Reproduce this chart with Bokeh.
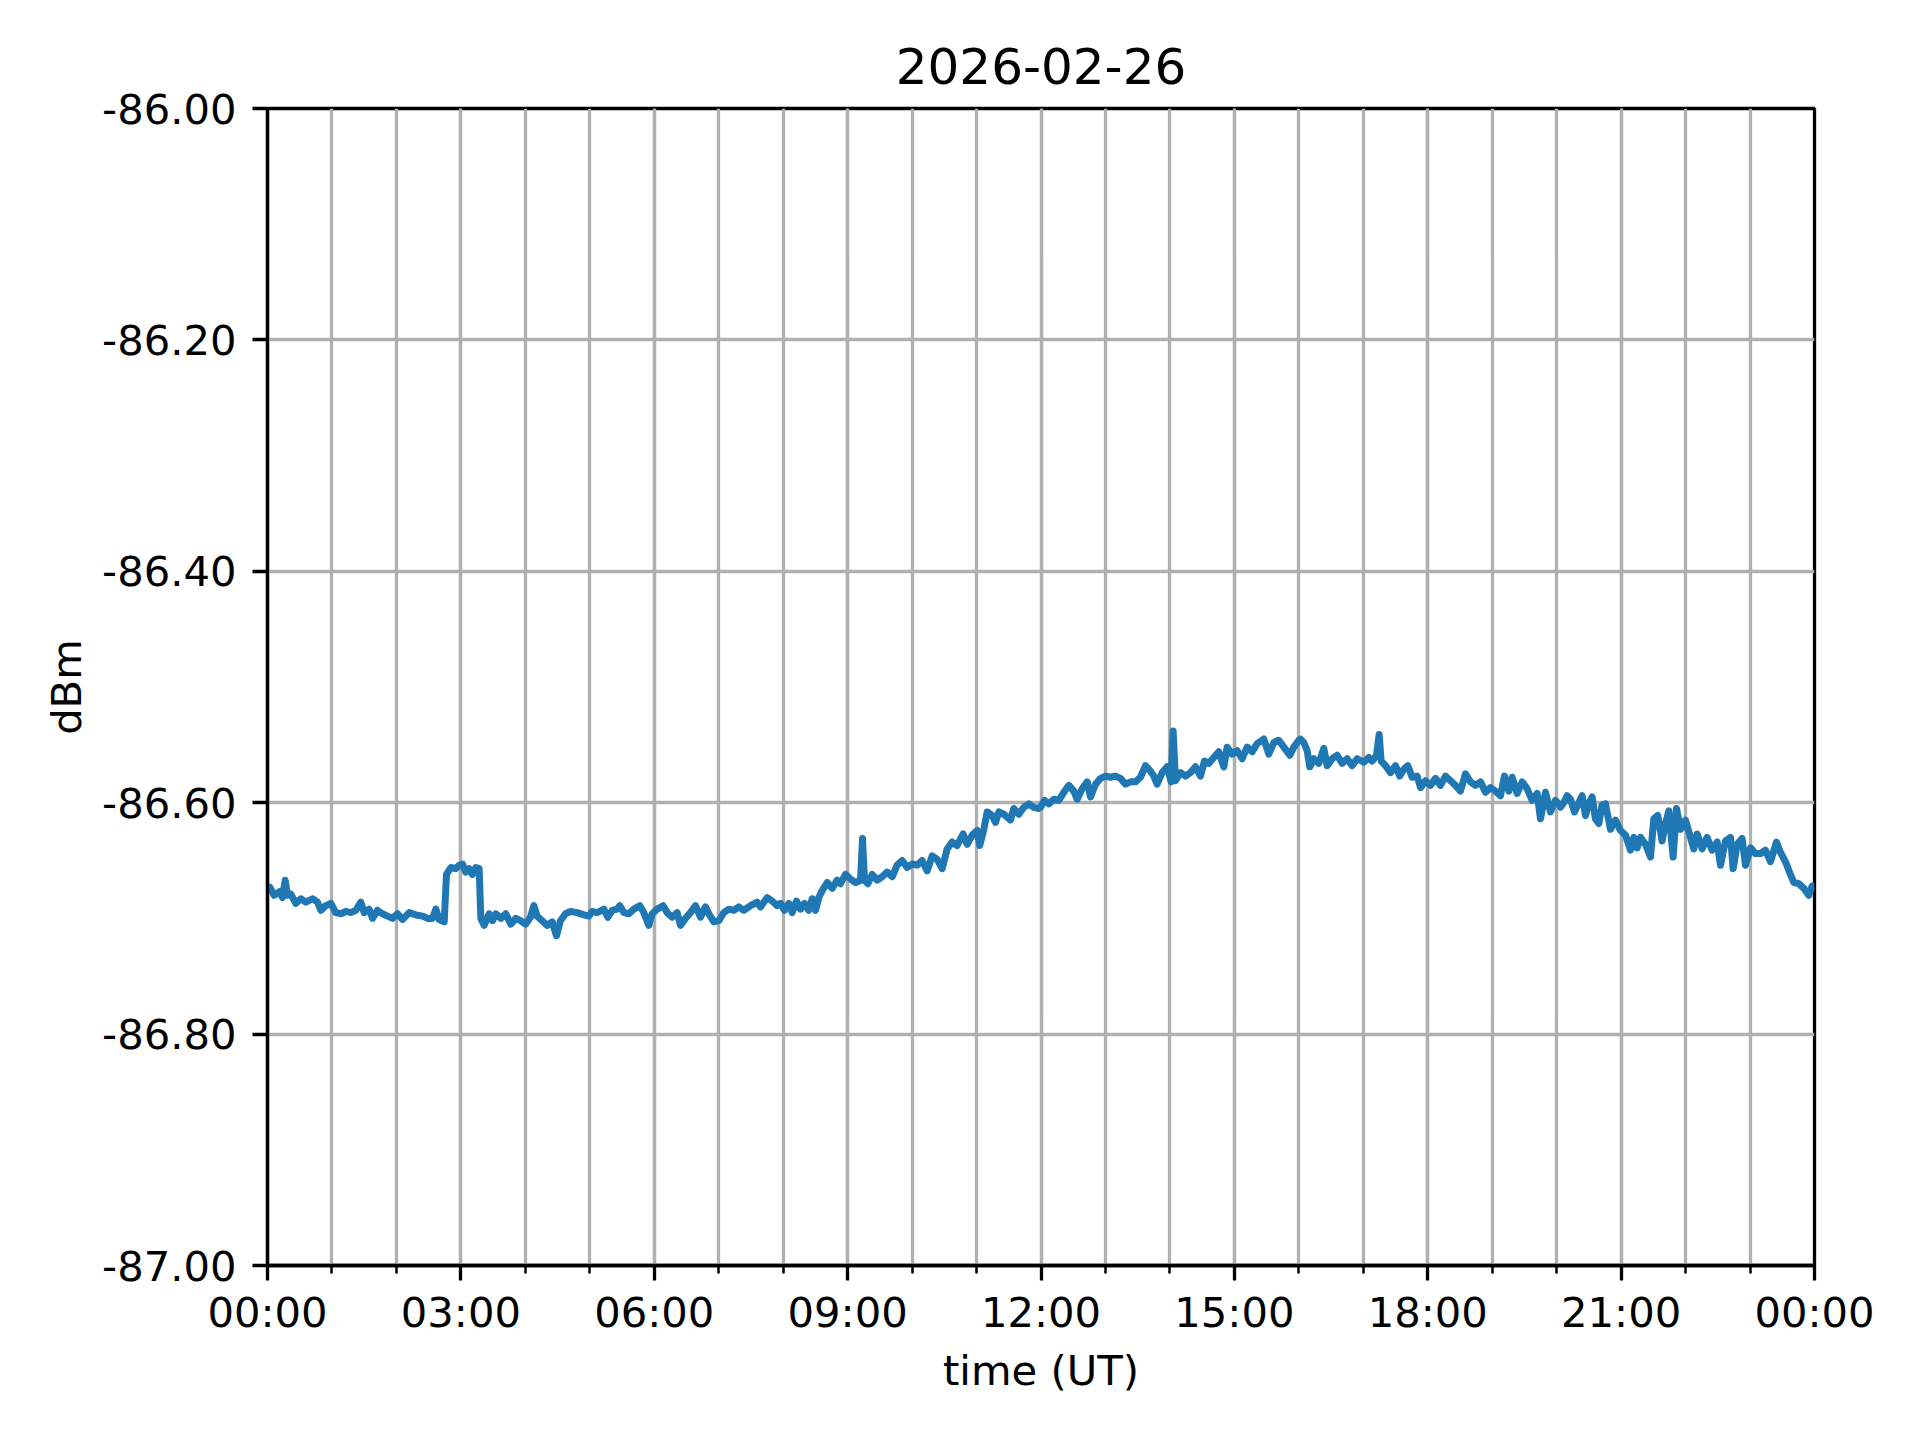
from bokeh.plotting import figure
from bokeh.models import Range1d, FixedTicker
from bokeh.embed import file_html
from bokeh.resources import INLINE

title_text = "2026-02-26"
x_label = "time (UT)"
y_label = "dBm"

# time of day in hours (UT)
hours = [
    0.000, 0.036, 0.103, 0.181, 0.233, 0.274, 0.310, 0.362, 0.439, 0.517, 0.595, 0.698, 0.776, 0.827,
    0.905, 0.983, 1.060, 1.138, 1.215, 1.293, 1.370, 1.448, 1.500, 1.577, 1.629, 1.706, 1.784, 1.862,
    1.939, 2.017, 2.094, 2.198, 2.301, 2.405, 2.482, 2.560, 2.611, 2.663, 2.741, 2.777, 2.844, 2.922,
    2.974, 3.025, 3.077, 3.129, 3.180, 3.232, 3.284, 3.310, 3.361, 3.439, 3.491, 3.542, 3.620, 3.697,
    3.775, 3.852,
    3.925, 4.003, 4.080, 4.132, 4.183, 4.261, 4.339, 4.416, 4.483, 4.545, 4.623, 4.701, 4.804, 4.908,
    4.985, 5.037, 5.114, 5.218, 5.280, 5.347, 5.425, 5.466, 5.528, 5.606, 5.683, 5.776, 5.838, 5.916,
    5.968, 6.045, 6.138, 6.200, 6.278, 6.355, 6.407, 6.485, 6.562, 6.640, 6.717, 6.795, 6.847, 6.924,
    7.002, 7.079, 7.157, 7.234, 7.312, 7.390, 7.493, 7.596, 7.648, 7.700, 7.752, 7.829, 7.907,
    7.958, 8.020, 8.088, 8.140, 8.207, 8.269, 8.331, 8.398, 8.450, 8.501, 8.553, 8.605, 8.683, 8.760,
    8.838, 8.889, 8.967, 9.044, 9.122, 9.200, 9.231, 9.262, 9.313, 9.381, 9.458, 9.536, 9.613, 9.691,
    9.768, 9.846, 9.924, 10.001, 10.079, 10.156, 10.234, 10.312, 10.389, 10.467, 10.544, 10.622,
    10.699, 10.792, 10.854, 10.932, 11.009, 11.050, 11.113, 11.165, 11.242, 11.294, 11.346, 11.423,
    11.527, 11.578, 11.656, 11.733, 11.811, 11.888, 11.966,
    11.992, 12.054, 12.121, 12.199, 12.276, 12.354, 12.432, 12.509, 12.561, 12.638, 12.716, 12.768,
    12.845, 12.923, 13.000, 13.078, 13.155, 13.233, 13.311, 13.388, 13.466, 13.543, 13.621, 13.688,
    13.750, 13.802, 13.879, 13.957, 14.019, 14.050, 14.086, 14.164, 14.241, 14.319, 14.397, 14.474,
    14.536, 14.603, 14.681, 14.758, 14.836, 14.888, 14.965, 15.043, 15.121, 15.198, 15.276, 15.353,
    15.457, 15.534, 15.612, 15.689, 15.767, 15.860, 15.922, 16.000,
    16.026, 16.077, 16.129, 16.170, 16.232, 16.310, 16.387, 16.439, 16.517, 16.594, 16.672, 16.749,
    16.827, 16.905, 17.008, 17.086, 17.137, 17.205, 17.246, 17.277, 17.344, 17.422, 17.499, 17.566,
    17.629, 17.691, 17.758, 17.836, 17.887, 17.965, 18.042, 18.120, 18.197, 18.275, 18.353, 18.430,
    18.508, 18.585, 18.663, 18.740, 18.818, 18.896, 18.973, 19.051, 19.128, 19.190, 19.257, 19.309,
    19.387, 19.464, 19.542, 19.619, 19.697, 19.749, 19.826, 19.904, 19.981, 20.033,
    20.059, 20.110, 20.162, 20.214, 20.276, 20.343, 20.395, 20.447, 20.498, 20.550, 20.602, 20.654,
    20.705, 20.757, 20.835, 20.912, 20.990, 21.068, 21.145, 21.197, 21.249, 21.300, 21.378, 21.455,
    21.507, 21.569, 21.636, 21.688, 21.740, 21.807, 21.859, 21.921, 21.998, 22.076, 22.127, 22.179,
    22.257, 22.334, 22.412, 22.490, 22.541, 22.619, 22.697, 22.738, 22.800, 22.877, 22.929, 23.007,
    23.084, 23.162, 23.239, 23.317, 23.410, 23.472, 23.549, 23.627, 23.679, 23.756, 23.834, 23.911,
    23.964, 24.000]

# received power in dBm
dbm = [
    -86.675, -86.673, -86.680, -86.677, -86.682, -86.667, -86.680, -86.679, -86.687, -86.683, -86.686,
    -86.683, -86.686, -86.693, -86.689, -86.687, -86.695, -86.696, -86.694, -86.695, -86.693, -86.686,
    -86.695, -86.692, -86.700, -86.693, -86.696, -86.698, -86.700, -86.696, -86.701, -86.695, -86.697,
    -86.698, -86.700, -86.700, -86.692, -86.701, -86.703, -86.662, -86.656, -86.657, -86.654, -86.653,
    -86.660, -86.657, -86.662, -86.656, -86.657, -86.700, -86.706, -86.696, -86.702, -86.696, -86.700,
    -86.696, -86.705, -86.700,
    -86.702, -86.705, -86.699, -86.689, -86.698, -86.702, -86.706, -86.703, -86.715, -86.702, -86.696,
    -86.694, -86.695, -86.697, -86.698, -86.694, -86.695, -86.692, -86.699, -86.693, -86.692, -86.689,
    -86.695, -86.696, -86.692, -86.689, -86.695, -86.706, -86.696, -86.692, -86.689, -86.695, -86.699,
    -86.695, -86.706, -86.700, -86.695, -86.689, -86.699, -86.690, -86.696, -86.703, -86.702, -86.695,
    -86.692, -86.693, -86.690, -86.693, -86.689, -86.686, -86.690, -86.686, -86.682, -86.685, -86.689,
    -86.687, -86.693, -86.687, -86.695, -86.685, -86.692, -86.687, -86.693, -86.683, -86.693, -86.682,
    -86.676, -86.669, -86.674, -86.667, -86.670, -86.662, -86.666, -86.669, -86.667, -86.631, -86.667,
    -86.670, -86.662, -86.667, -86.664, -86.660, -86.664, -86.654, -86.650, -86.656, -86.653, -86.654,
    -86.650, -86.659, -86.646, -86.649, -86.657, -86.640, -86.634, -86.637, -86.627, -86.636, -86.628,
    -86.624, -86.637, -86.623, -86.608, -86.611, -86.617, -86.608, -86.610, -86.615, -86.605, -86.610,
    -86.604, -86.601, -86.604, -86.605,
    -86.604, -86.598, -86.601, -86.597, -86.598, -86.591, -86.585, -86.590, -86.597, -86.588, -86.582,
    -86.595, -86.584, -86.579, -86.577, -86.578, -86.577, -86.579, -86.584, -86.582, -86.582, -86.578,
    -86.568, -86.572, -86.577, -86.584, -86.574, -86.569, -86.582, -86.538, -86.581, -86.574, -86.577,
    -86.574, -86.569, -86.577, -86.564, -86.566, -86.561, -86.556, -86.569, -86.552, -86.558, -86.555,
    -86.562, -86.552, -86.556, -86.549, -86.545, -86.558, -86.548, -86.546, -86.552, -86.559, -86.552,
    -86.546,
    -86.545, -86.548, -86.555, -86.569, -86.562, -86.566, -86.553, -86.568, -86.562, -86.559, -86.566,
    -86.562, -86.568, -86.562, -86.565, -86.561, -86.564, -86.559, -86.541, -86.564, -86.568, -86.574,
    -86.568, -86.577, -86.571, -86.568, -86.578, -86.577, -86.587, -86.581, -86.585, -86.579, -86.585,
    -86.577, -86.581, -86.585, -86.590, -86.575, -86.582, -86.585, -86.582, -86.591, -86.587, -86.590,
    -86.594, -86.577, -86.590, -86.578, -86.592, -86.582, -86.588, -86.598, -86.592, -86.614, -86.591,
    -86.608, -86.598, -86.601,
    -86.604, -86.600, -86.594, -86.597, -86.608, -86.600, -86.594, -86.611, -86.601, -86.595, -86.614,
    -86.618, -86.602, -86.601, -86.623, -86.615, -86.624, -86.628, -86.641, -86.630, -86.639, -86.630,
    -86.636, -86.647, -86.614, -86.611, -86.633, -86.618, -86.607, -86.647, -86.605, -86.623, -86.615,
    -86.630, -86.640, -86.627, -86.640, -86.630, -86.641, -86.634, -86.654, -86.633, -86.630, -86.657,
    -86.636, -86.631, -86.654, -86.639, -86.644, -86.644, -86.641, -86.651, -86.634, -86.643, -86.651,
    -86.662, -86.669, -86.670, -86.674, -86.680, -86.672, -86.672]

x_major_ticks = [0, 3, 6, 9, 12, 15, 18, 21, 24]
x_minor_ticks = [h for h in range(25)]
x_tick_labels = ["00:00", "03:00", "06:00", "09:00", "12:00", "15:00", "18:00", "21:00", "00:00"]
y_ticks = [-87.0, -86.8, -86.6, -86.4, -86.2, -86.0]
y_tick_labels = ["-87.00", "-86.80", "-86.60", "-86.40", "-86.20", "-86.00"]

FONT = "DejaVu Sans"
FS = "41.7px"
GRID = "#b0b0b0"

p = figure(width=1912, height=1432, output_backend="svg", toolbar_location=None,
           x_range=Range1d(0, 24), y_range=Range1d(-87, -86),
           min_border_left=267, min_border_right=98, min_border_top=108, min_border_bottom=167)
p.background_fill_color = "white"
p.border_fill_color = "white"
p.outline_line_color = "black"
p.outline_line_width = 3.3

p.title.text = title_text
p.title.align = "center"
p.title.text_font = FONT
p.title.text_font_size = "50px"
p.title.text_font_style = "normal"
p.title.text_color = "black"
p.title.standoff = 50

p.line(hours, dbm, line_color="#1f77b4", line_width=7, line_join="round")

p.xaxis.ticker = FixedTicker(ticks=x_major_ticks, minor_ticks=x_minor_ticks)
p.xaxis.major_label_overrides = {t: l for t, l in zip(x_major_ticks, x_tick_labels)}
p.yaxis.ticker = FixedTicker(ticks=y_ticks, minor_ticks=[])
p.yaxis.major_label_overrides = {t: l for t, l in zip(y_ticks, y_tick_labels)}

p.xaxis.axis_label = x_label
p.yaxis.axis_label = y_label

for ax in (p.xaxis, p.yaxis):
    ax.axis_line_color = "black"
    ax.axis_line_width = 3.3
    ax.major_tick_line_color = "black"
    ax.major_tick_line_width = 3.3
    ax.major_tick_out = 15
    ax.major_tick_in = 0
    ax.minor_tick_line_color = "black"
    ax.minor_tick_line_width = 2.5
    ax.minor_tick_out = 8
    ax.minor_tick_in = 0
    ax.major_label_text_font = FONT
    ax.major_label_text_font_size = FS
    ax.major_label_text_color = "black"
    ax.axis_label_text_font = FONT
    ax.axis_label_text_font_size = FS
    ax.axis_label_text_font_style = "normal"
    ax.axis_label_text_color = "black"

p.xaxis.major_label_standoff = 7
p.xaxis.axis_label_standoff = 6
p.yaxis.major_label_standoff = 16
p.yaxis.axis_label_standoff = 8

p.xgrid.ticker = FixedTicker(ticks=x_major_ticks, minor_ticks=x_minor_ticks)
p.xgrid.grid_line_color = GRID
p.xgrid.grid_line_width = 3.3
p.xgrid.minor_grid_line_color = GRID
p.xgrid.minor_grid_line_width = 3.3
p.ygrid.ticker = FixedTicker(ticks=y_ticks, minor_ticks=[])
p.ygrid.grid_line_color = GRID
p.ygrid.grid_line_width = 3.3

open("out.html", "w").write(file_html(p, INLINE))
